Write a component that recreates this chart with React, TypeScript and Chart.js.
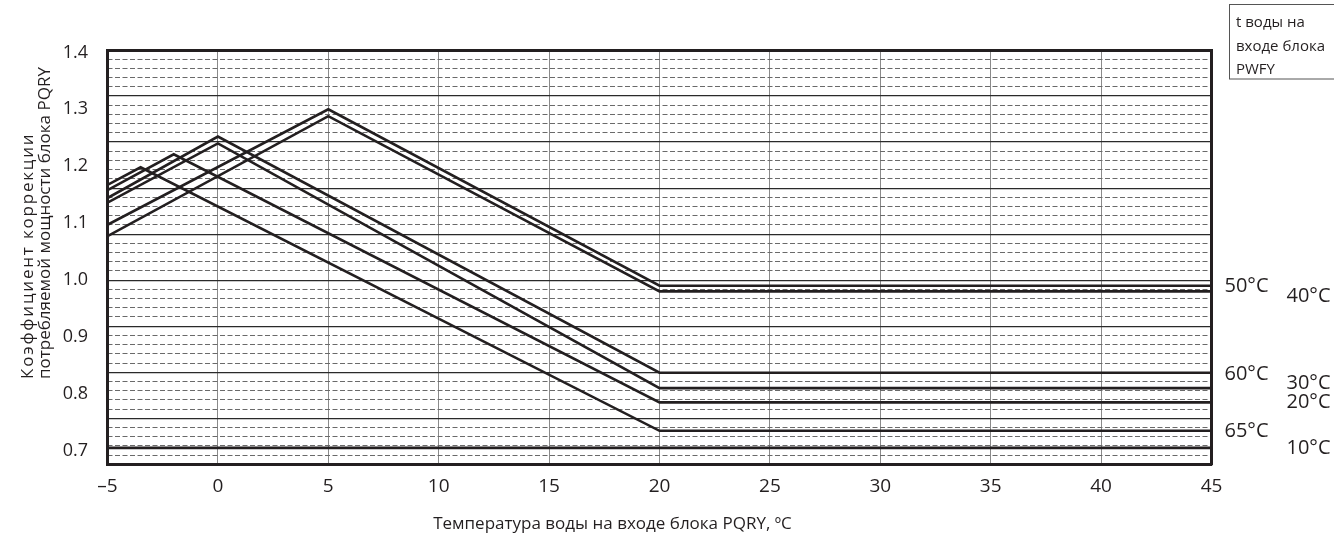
import React, { useEffect, useRef } from 'react';
import { Chart, registerables } from 'chart.js';

Chart.register(...registerables);

// ---- Axis ticks ----
const xTicks = [-5, 0, 5, 10, 15, 20, 25, 30, 35, 40, 45];
const yTicks = [0.7, 0.8, 0.9, 1.0, 1.1, 1.2, 1.3, 1.4];
const yTickLabels = ['0.7', '0.8', '0.9', '1.0', '1.1', '1.2', '1.3', '1.4'];

// ---- Series (inlet water temperature of PWFY unit) ----
const seriesNames = ['10°C', '20°C', '30°C', '40°C', '50°C', '60°C', '65°C'];
const t10X = [-5, 45];
const t10Y = [0.705, 0.705];
const t20X = [-5, -2, 20, 45];
const t20Y = [1.158, 1.221, 0.785, 0.785];
const t30X = [-5, 0, 20, 45];
const t30Y = [1.136, 1.24, 0.81, 0.81];
const t40X = [-5, 5, 20, 45];
const t40Y = [1.077, 1.288, 0.98, 0.98];
const t50X = [-5, 5, 20, 45];
const t50Y = [1.097, 1.3, 0.99, 0.99];
const t60X = [-5, 0, 20, 45];
const t60Y = [1.144, 1.252, 0.837, 0.837];
const t65X = [-5, -3.5, 20, 45];
const t65Y = [1.167, 1.198, 0.735, 0.735];

const seriesX = [t10X, t20X, t30X, t40X, t50X, t60X, t65X];
const seriesY = [t10Y, t20Y, t30Y, t40Y, t50Y, t60Y, t65Y];

// ---- Texts ----
const yTitleLines = ['Коэффициент коррекции', 'потребляемой мощности блока PQRY'];
const xTitle = 'Температура воды на входе блока PQRY, ºC';
const legendLines = ['t воды на', 'входе блока', 'PWFY'];

// ---- Styles ----
const INK = '#231f20';
const FONT = '"Open Sans", "DejaVu Sans", sans-serif';
// label placement at right: column offset from plot right edge, vertical nudge
const labelStyle: Record<string, { dx: number; dy: number }> = {
  '10°C': { dx: 75, dy: 0 },
  '20°C': { dx: 75, dy: 0 },
  '30°C': { dx: 75, dy: -5 },
  '40°C': { dx: 75, dy: 5 },
  '50°C': { dx: 13, dy: 1 },
  '60°C': { dx: 13, dy: 2 },
  '65°C': { dx: 13, dy: 1 },
};

const annotPlugin = {
  id: 'annot',
  afterDraw(chart: any) {
    const { ctx, chartArea } = chart;
    const ys = chart.scales.y;
    ctx.save();
    ctx.fillStyle = INK;

    // right-side series labels
    ctx.font = `20px ${FONT}`;
    ctx.textAlign = 'left';
    ctx.textBaseline = 'middle';
    seriesNames.forEach((name, i) => {
      const yv = seriesY[i][seriesY[i].length - 1];
      const st = labelStyle[name];
      ctx.fillText(name, chartArea.right + st.dx, ys.getPixelForValue(yv) + st.dy);
    });

    // y title (rotated, two lines, start-aligned)
    ctx.font = `17px ${FONT}`;
    ctx.textBaseline = 'alphabetic';
    const baseXs = [33, 49.5];
    const spacings = ['1.8px', '0px'];
    yTitleLines.forEach((line, i) => {
      ctx.save();
      ctx.translate(baseXs[i], 379);
      ctx.rotate(-Math.PI / 2);
      ctx.textAlign = 'left';
      (ctx as any).letterSpacing = spacings[i];
      ctx.fillText(line, 0, 0);
      ctx.restore();
    });

    // x title
    ctx.font = `17px ${FONT}`;
    ctx.textAlign = 'center';
    ctx.textBaseline = 'alphabetic';
    ctx.fillText(xTitle, 612.5, 529);

    // legend box
    ctx.strokeStyle = '#555';
    ctx.lineWidth = 1;
    ctx.strokeRect(1229.5, 4.5, 120, 74.5);
    ctx.font = `15px ${FONT}`;
    ctx.textAlign = 'left';
    const legendBase = [27, 51, 74];
    legendLines.forEach((line, i) => ctx.fillText(line, 1236, legendBase[i]));

    ctx.restore();
  },
};

export default function App() {
  const ref = useRef<HTMLCanvasElement | null>(null);

  useEffect(() => {
    if (!ref.current) return;
    const datasets = seriesNames.map((name, i) => ({
      label: name,
      data: seriesX[i].map((x, j) => ({ x, y: seriesY[i][j] })),
      showLine: true,
      borderColor: INK,
      borderWidth: 2.6,
      pointRadius: 0,
      fill: false,
      tension: 0,
      xAxisID: 'x',
      yAxisID: 'y',
    }));

    const chart = new Chart(ref.current, {
      type: 'scatter',
      data: { datasets },
      plugins: [annotPlugin],
      options: {
        animation: false,
        responsive: false,
        devicePixelRatio: 1,
        layout: { padding: { left: 0, top: 50, right: 122.5, bottom: 0 } },
        plugins: {
          legend: { display: false },
          tooltip: { enabled: false },
          title: { display: false },
        },
        scales: {
          x: {
            type: 'linear',
            position: 'bottom',
            min: -5,
            max: 45,
            afterBuildTicks: (s: any) => {
              s.ticks = xTicks.map((v) => ({ value: v }));
            },
            afterFit: (s: any) => {
              s.height = 69.7;
            },
            ticks: {
              color: INK,
              font: { family: FONT, size: 19 },
              padding: 10.4,
              maxRotation: 0,
              autoSkip: false,
              callback: (v: any) => (Number(v) < 0 ? '–' + Math.abs(Number(v)) : String(v)),
            },
            grid: { color: '#8a8a8a', lineWidth: 1, drawTicks: false },
            border: { display: true, color: INK, width: 3 },
          },
          xTop: {
            type: 'linear',
            position: 'top',
            min: -5,
            max: 45,
            afterFit: (s: any) => {
              s.height = 0;
            },
            ticks: { display: false },
            grid: { display: false, drawTicks: false },
            border: { display: true, color: INK, width: 3 },
          },
          y: {
            type: 'linear',
            position: 'left',
            min: 0.6761,
            max: 1.4042,
            afterBuildTicks: (s: any) => {
              s.ticks = yTicks.map((v) => ({ value: v }));
            },
            afterFit: (s: any) => {
              s.width = 107.5;
            },
            ticks: {
              color: INK,
              font: { family: FONT, size: 18 },
              padding: 19.5,
              autoSkip: false,
              callback: (v: any) => {
                const k = yTicks.findIndex((t) => Math.abs(t - Number(v)) < 1e-6);
                return k >= 0 ? yTickLabels[k] : '';
              },
            },
            grid: { display: false, drawTicks: false },
            border: { display: true, color: INK, width: 3 },
          },
          yGrid: {
            type: 'linear',
            position: 'right',
            min: 0,
            max: 45,
            afterBuildTicks: (s: any) => {
              const t = [];
              for (let i = 0; i <= 45; i++) t.push({ value: i });
              s.ticks = t;
            },
            afterFit: (s: any) => {
              s.width = 0;
            },
            ticks: { display: false },
            grid: {
              drawTicks: false,
              color: (c: any) => (c.tick && c.tick.value % 5 === 0 ? '#2a2a2a' : '#6a6a6a'),
              lineWidth: (c: any) => (c.tick && c.tick.value % 5 === 0 ? 1.2 : 1),
            },
            border: {
              display: true,
              color: INK,
              width: 3,
              dash: (c: any) => (c.tick && c.tick.value % 5 !== 0 ? [5, 2.5] : []),
            },
          },
        },
      } as any,
    });
    return () => chart.destroy();
  }, []);

  return (
    <div style={{ position: 'absolute', left: 0, top: 0, width: 1334, height: 534, background: '#fff' }}>
      <canvas ref={ref} width={1334} height={534} />
    </div>
  );
}
